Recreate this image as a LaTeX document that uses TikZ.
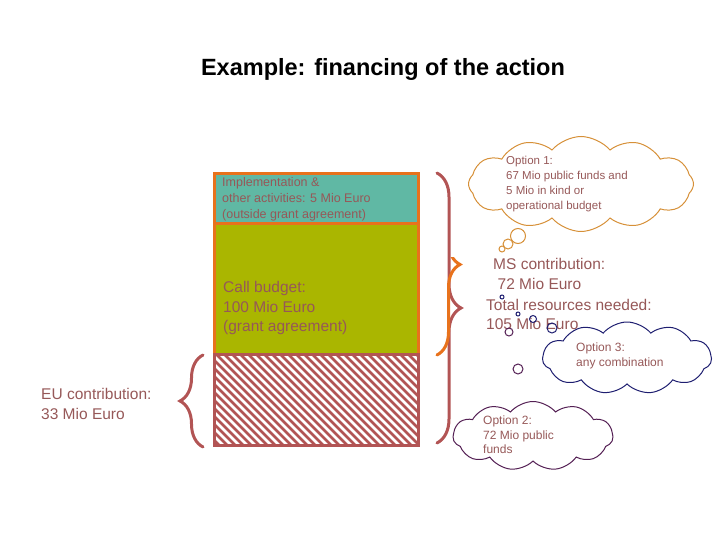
\documentclass[tikz,border=0pt]{standalone}
\usepackage{fontspec}
\setmainfont{Liberation Sans}
\usepackage{xcolor}
\usetikzlibrary{shapes.symbols,decorations.pathreplacing}
\definecolor{brd}{RGB}{178,84,84}
\definecolor{orng}{RGB}{232,114,28}
\definecolor{tealc}{RGB}{96,184,164}
\definecolor{olive}{RGB}{170,182,0}
\definecolor{txt}{RGB}{150,88,88}
\definecolor{cldor}{RGB}{214,144,56}
\definecolor{navy}{RGB}{30,30,112}
\definecolor{purp}{RGB}{84,32,84}

\begin{document}
\begin{tikzpicture}[x=1pt,y=-1pt,
  every node/.style={text=txt,inner sep=0pt,align=left},
  big/.style={font=\fontsize{15.5}{19.5}\selectfont},
  sml/.style={font=\fontsize{12}{14.5}\selectfont},
  box/.style={minimum width=204pt,line width=3pt,draw=orng},
  brc/.style={decorate,line width=3pt,line cap=round,
    decoration={brace,amplitude=#1}},
  cld/.style={cloud,cloud ignores aspect,draw,line width=1pt,cloud puffs=#1,cloud puff arc=100},
  bub/.style={circle,draw,line width=1pt}]
 \useasboundingbox (0,0) rectangle (720,540);
 \node[text=black,font=\fontsize{23.5}{27}\selectfont\bfseries] (title) at (383,69.5) {Example: financing of the action};
 % the budget column
 \node[box,fill=tealc,minimum height=50pt] (impl) at (316,199) {};
 \node[box,fill=olive,minimum height=130pt] (call) at (316,289) {};
 \begin{scope}
  \clip (214,354) rectangle (418,445);
  \foreach \i in {-100,-92,...,420}
    \draw[brd,line width=2.8pt] (\i,350) -- ++(100,100);
 \end{scope}
 \node[box,draw=brd,minimum height=91pt] (eu) at (316,399.5) {};
 \node[font=\fontsize{12.5}{16}\selectfont,anchor=west] (impltxt) at (222,199)
   {Implementation \&\\other activities: 5 Mio Euro\\(outside grant agreement)};
 \node[big,anchor=west] (calltxt) at (223,308) {Call budget:\\100 Mio Euro\\(grant agreement)};
 \node[big,anchor=west] (eutxt) at (41,404) {EU contribution:\\33 Mio Euro};
 \node[big,anchor=west] (ms) at (493,274) {MS contribution:\\\hspace*{4.5pt}72 Mio Euro};
 \node[big,anchor=west] (tot) at (486,314.5) {Total resources needed:\\105 Mio Euro};
 % braces
 \draw[brc=23pt,brd] (203,447) -- (203,355);
 \draw[brc=24pt,brd] (437,173) -- (437,443);
 \begin{scope}
  \clip (425,257) rectangle (480,365);
  \draw[brc=23pt,orng] (437,174) -- (437,355);
 \end{scope}
 % thought clouds
 \node[cld=12,cldor,minimum width=225pt,minimum height=95pt] (c1) at (581,184) {};
 \node[cld=11,navy,minimum width=169pt,minimum height=72pt] (c3) at (627,358) {};
 \node[cld=11,purp,minimum width=160pt,minimum height=69pt] (c2) at (533,436) {};
 \node[sml,anchor=west,font=\fontsize{11.5}{15}\selectfont] (o1) at (506,184.5)
   {Option 1:\\67 Mio public funds and\\5 Mio in kind or\\operational budget};
 \node[sml,anchor=west] (o3) at (576,356) {Option 3:\\any combination};
 \node[sml,anchor=west] (o2) at (483,435) {Option 2:\\72 Mio public\\funds};
 \foreach \n/\x/\y/\r/\c in {a1/518/236/15/cldor,a2/508/244/10/cldor,a3/502/249/6/cldor,
   b1/502/297/4/navy,b2/518/314/4/navy,b3/533/319/7/navy,b4/552/328/10/navy,
   b5/509/332/8/purp,b6/518/369/10/purp}
   \node[bub,\c,minimum size=\r pt] (\n) at (\x,\y) {};
\end{tikzpicture}
\end{document}
